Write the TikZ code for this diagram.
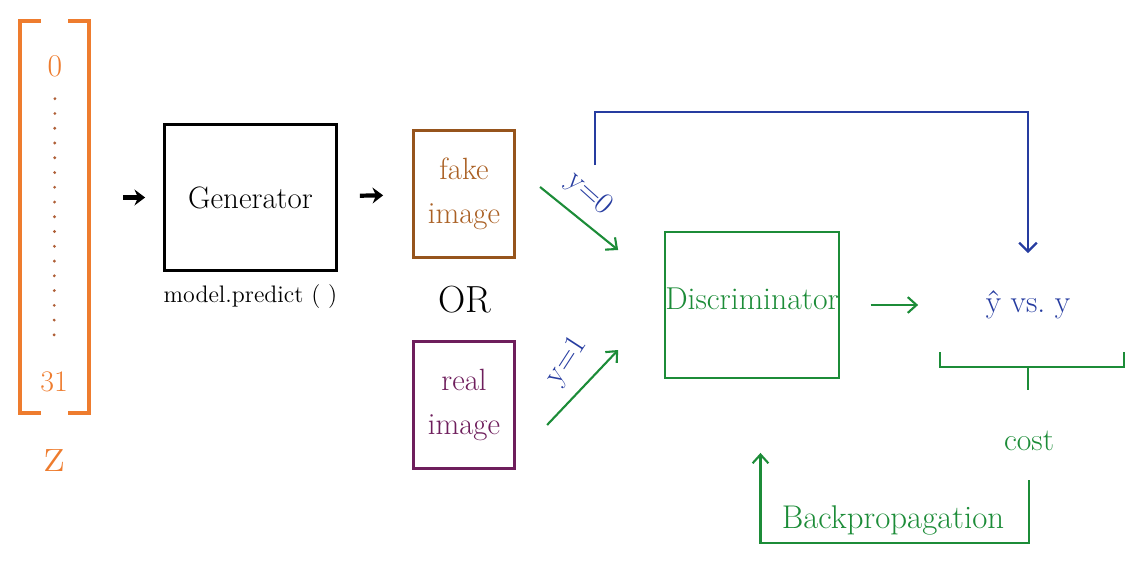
\documentclass[tikz,border=0pt]{standalone}
\usepackage{xcolor}
\usepackage{tikz}
\usetikzlibrary{arrows.meta,positioning}
\definecolor{zorange}{RGB}{238,124,46}
\definecolor{zdots}{RGB}{175,95,55}
\definecolor{fakebrown}{RGB}{150,84,28}
\definecolor{fakeink}{RGB}{170,96,36}
\definecolor{realpurple}{RGB}{110,30,92}
\definecolor{dgreen}{RGB}{28,140,56}
\definecolor{dblue}{RGB}{38,60,160}
\tikzset{
  txt/.style      = { font=\fontsize{#1}{25}\selectfont },
  bigbox/.style   = { draw, rectangle, minimum width=3.44cm, minimum height=2.92cm },
  imgbox/.style   = { draw=#1, line width=1.8pt, minimum width=2.02cm, minimum height=2.54cm, align=center },
  shortarr/.style = { line width=2.4pt, -{Stealth[length=6pt,width=9pt]} },
  garr/.style     = { dgreen, line width=1.2pt, -{Straight Barb[length=5pt,width=9pt]} },
  barr/.style     = { dblue, line width=1.3pt, -{Straight Barb[length=5pt,width=10pt]} },
  zbrk/.style     = { zorange, line width=2.3pt },
  gline/.style    = { dgreen, line width=1.4pt }
}

\begin{document}
\begin{tikzpicture}[x=0.02cm, y=-0.02cm]
\useasboundingbox (0,0) rectangle (1144,561);
% noise vector z
\node[minimum width=1.37cm, minimum height=7.84cm, inner sep=0pt] (zvec) at (54.5,217) {};
\draw[zbrk] ([shift={(21,0)}]zvec.north west) -- (zvec.north west) -- (zvec.south west) -- ++(21,0);
\draw[zbrk] ([shift={(-21,0)}]zvec.north east) -- (zvec.north east) -- (zvec.south east) -- ++(-21,0);
\node[txt=18, text=zorange] (n0) at (55,66) {0};
\node[txt=17, text=zorange] (n31) at (54,382) {31};
\node[txt=29, text=zorange] (zlbl) at (55,461) {z};
\draw[zdots, line width=1.8pt, line cap=round, dash pattern=on 0pt off 8.4pt, shorten <=9pt, shorten >=16.5pt] (n0) -- (n31);

% generator
\node[bigbox, line width=1.7pt, txt=17.6] (gen) at (250.5,197.5) {Generator};
\node[txt=13.6, below=0.13cm of gen] (pred) {model.predict ( )};
\draw[shortarr, shorten <=19.3pt, shorten >=10.2pt] (zvec.east |- gen.west) -- (gen.west);

% fake or real
\node[imgbox=fakebrown, text=fakeink, txt=17.5] (fake) at (464,194) {fake\\image};
\node[txt=21.5] (or) at (465,300) {OR};
\node[imgbox=realpurple, text=realpurple, txt=17.5] (real) at (464,405) {real\\image};
\draw[shortarr, shorten <=12.5pt, shorten >=16.4pt] (gen) -- (fake);

% discriminator
\node[bigbox, draw=dgreen, line width=1.3pt, minimum width=3.4cm, inner sep=0pt, text depth=6.8pt, text=dgreen, txt=18] (disc) at (752,305) {Discriminator};
\draw[garr] ([shift={(24,-7)}]fake.east) -- ([shift={(-46,-55)}]disc.west);
\draw[garr] ([shift={(31,20)}]real.east) -- ([shift={(-46,45)}]disc.west);
\node[txt=17.5, text=dblue, rotate=-42] (ylab0) at (589,194) {y=0};
\node[txt=17.5, text=dblue, rotate=57] (ylab1) at (567,361) {y=1};

% cost and backprop
\node[txt=18, text=dblue] (yvy) at (1028,305) {\^{y} vs.\ y};
\draw[garr, shorten <=17.5pt, shorten >=35pt] (disc) -- (yvy);
\coordinate (ytop) at (595,165);
\draw[barr, shorten >=18pt] (ytop) -- ++(0,-53) -| (yvy.north);
\draw[gline] (940,352) -- (940,367) -- (1124,367) -- (1124,352) (1028,367) -- (1028,390);
\node[txt=18, text=dgreen] (cost) at (1029,441) {cost};
\draw[garr, shorten <=13.2pt, shorten >=42pt] (cost.south) -- ++(0,86) -| ([xshift=0.17cm]disc.south);
\node[txt=18.7, text=dgreen] (bprop) at (893,520) {Backpropagation};
\end{tikzpicture}
\end{document}
